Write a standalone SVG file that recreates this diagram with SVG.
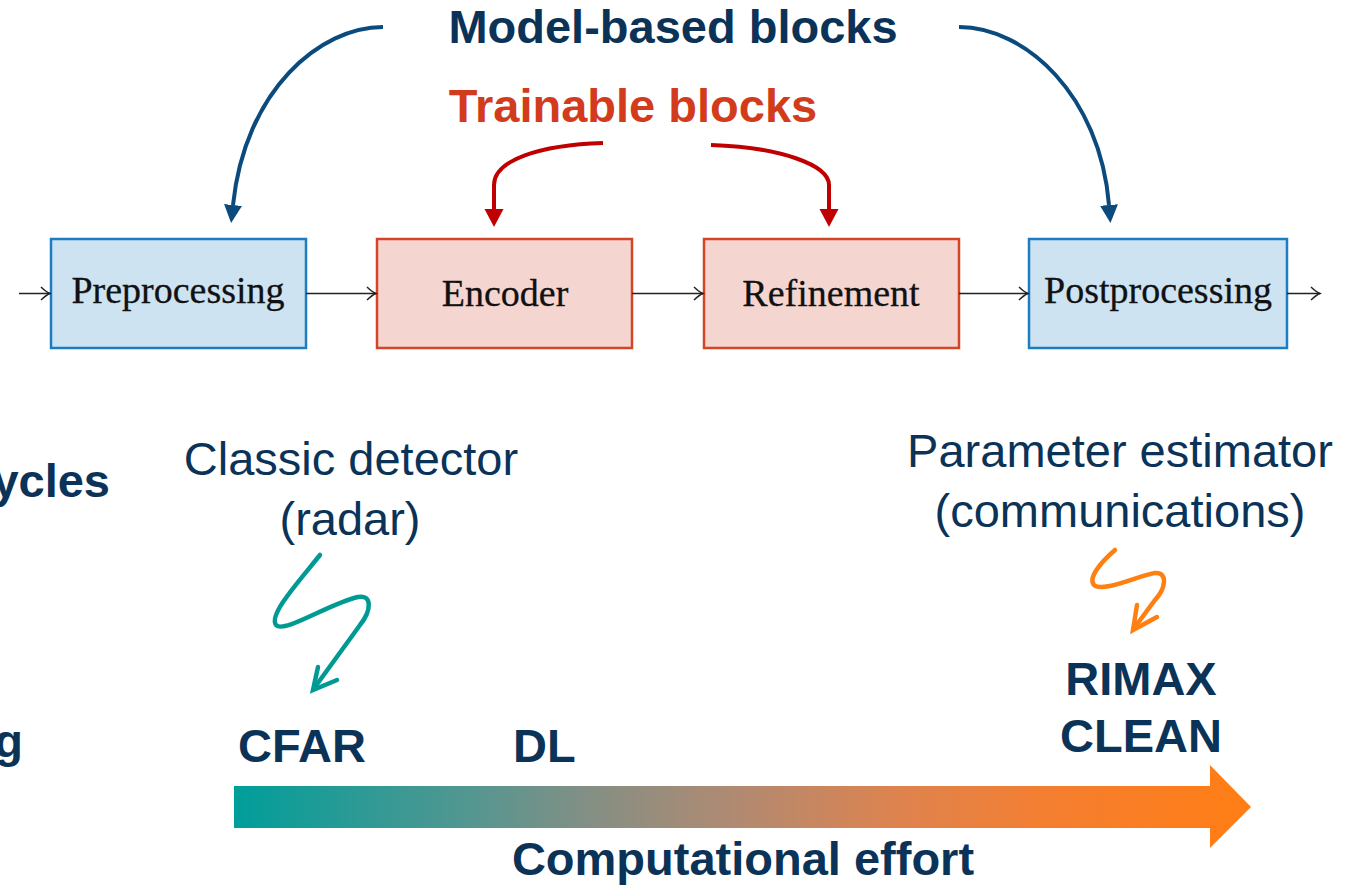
<svg xmlns="http://www.w3.org/2000/svg" width="1363" height="886" viewBox="0 0 1363 886">
  <style>
    .bold { font-family: "Liberation Sans", Arial, sans-serif; font-weight: bold; font-size: 47px; fill: #0B3358; }
    .reg { font-family: "Liberation Sans", Arial, sans-serif; font-size: 47px; fill: #0B3358; }
    .red { fill: #D23C1C; }
    .box-blue { fill: #CDE3F1; stroke: #1C7DC3; stroke-width: 2.5; }
    .box-red { fill: #F5D5D0; stroke: #D34527; stroke-width: 2.5; }
    .boxlabel { font-family: "Liberation Serif", "Times New Roman", serif; font-size: 38px; fill: #111; stroke: #111; stroke-width: 0.3; text-anchor: middle; }
    .flow { fill: none; stroke: #222; stroke-width: 1.5; marker-end: url(#to); }
    .navyarc { fill: none; stroke: #0A4A7D; stroke-width: 4; marker-end: url(#navyhead); }
    .redarc { fill: none; stroke: #C00000; stroke-width: 4; marker-end: url(#redhead); }
    .teal { fill: none; stroke: #009A94; stroke-width: 4.5; stroke-linecap: round; stroke-linejoin: miter; }
    .orange { fill: none; stroke: #FF7F11; stroke-width: 4.5; stroke-linecap: round; stroke-linejoin: miter; }
  </style>
  <defs>
    <marker id="to" viewBox="-11 -8 13 16" refX="0" refY="0" markerWidth="13" markerHeight="16" orient="auto" markerUnits="userSpaceOnUse">
      <path d="M-9,-6.5 Q-3.5,-1.2 0,0 Q-3.5,1.2 -9,6.5" fill="none" stroke="#222" stroke-width="1.5"/>
    </marker>
    <marker id="navyhead" viewBox="0 -10 19 20" refX="0" refY="0" markerWidth="19" markerHeight="20" orient="auto" markerUnits="userSpaceOnUse">
      <path d="M0,-9 L18,0 L0,9 z" fill="#0A4A7D"/>
    </marker>
    <marker id="redhead" viewBox="0 -10 19 20" refX="0" refY="0" markerWidth="19" markerHeight="20" orient="auto" markerUnits="userSpaceOnUse">
      <path d="M0,-9.5 L18,0 L0,9.5 z" fill="#C00000"/>
    </marker>
    <linearGradient id="effort" x1="234" y1="0" x2="1251" y2="0" gradientUnits="userSpaceOnUse">
      <stop offset="0" stop-color="#009E9A"/>
      <stop offset="0.24" stop-color="#579690"/>
      <stop offset="0.35" stop-color="#848F84"/>
      <stop offset="0.49" stop-color="#B08A72"/>
      <stop offset="0.65" stop-color="#DD834F"/>
      <stop offset="0.8" stop-color="#F47E30"/>
      <stop offset="1" stop-color="#FF7D14"/>
    </linearGradient>
  </defs>

  <rect width="1363" height="886" fill="#FFFFFF"/>

  <!-- Titles -->
  <text class="bold" x="673" y="43" text-anchor="middle">Model-based blocks</text>
  <text class="bold red" x="633" y="122" text-anchor="middle">Trainable blocks</text>

  <!-- Nodes -->
  <g id="preprocessing">
    <rect class="box-blue" x="51" y="239" width="255" height="109"/>
    <text class="boxlabel" x="178" y="303">Preprocessing</text>
  </g>
  <g id="encoder">
    <rect class="box-red" x="377" y="239" width="255" height="109"/>
    <text class="boxlabel" x="505" y="306">Encoder</text>
  </g>
  <g id="refinement">
    <rect class="box-red" x="704" y="239" width="255" height="109"/>
    <text class="boxlabel" x="831" y="306">Refinement</text>
  </g>
  <g id="postprocessing">
    <rect class="box-blue" x="1029" y="239" width="258" height="109"/>
    <text class="boxlabel" x="1158" y="303">Postprocessing</text>
  </g>

  <!-- Connectors -->
  <g id="connectors">
    <path class="flow" d="M19,293.5 L50,293.5"/>
    <path class="flow" d="M306,293.5 L376,293.5"/>
    <path class="flow" d="M632,293.5 L703,293.5"/>
    <path class="flow" d="M959,293.5 L1028,293.5"/>
    <path class="flow" d="M1287,293.5 L1320,293.5"/>

    <path class="navyarc" d="M383,27 C320,27 245,90 233,205"/>
    <path class="navyarc" d="M959,27 C1025,27 1100,95 1109,205"/>

    <path class="redarc" d="M603,143 C540,145 494,160 494,185 L494,209"/>
    <path class="redarc" d="M711,145 C780,147 829,165 829,185 L829,209"/>

    <path class="teal" d="M320,555 C300,580 268,615 276,625 C284,634 330,603 358,597 C372,594 372,610 360,625 L315,687"/>
    <path class="teal" d="M318,667 L313,690 L337,680"/>

    <path class="orange" d="M1115,550 C1100,563 1088,578 1094,585 C1102,593 1140,575 1155,573 C1168,572 1166,588 1155,600 L1135,627"/>
    <path class="orange" d="M1137,605 L1133,630 L1157,617"/>
  </g>

  <!-- Lower labels (cut off at the left edge, as in the reference) -->
  <text class="bold" x="110" y="497" text-anchor="end">ycles</text>
  <text class="bold" x="23" y="757" text-anchor="end">g</text>

  <text class="reg" x="351" y="475" text-anchor="middle">Classic detector</text>
  <text class="reg" x="350" y="535" text-anchor="middle">(radar)</text>
  <text class="reg" x="1120" y="467" text-anchor="middle">Parameter estimator</text>
  <text class="reg" x="1120" y="527" text-anchor="middle">(communications)</text>

  <text class="bold" x="238" y="762">CFAR</text>
  <text class="bold" x="513" y="762">DL</text>
  <text class="bold" x="1141" y="695" text-anchor="middle">RIMAX</text>
  <text class="bold" x="1141" y="752" text-anchor="middle">CLEAN</text>

  <!-- Effort arrow -->
  <path d="M234,786 L1210,786 L1210,765 L1251,807 L1210,848 L1210,828 L234,828 z" fill="url(#effort)"/>
  <text class="bold" x="743" y="875" text-anchor="middle">Computational effort</text>
</svg>
